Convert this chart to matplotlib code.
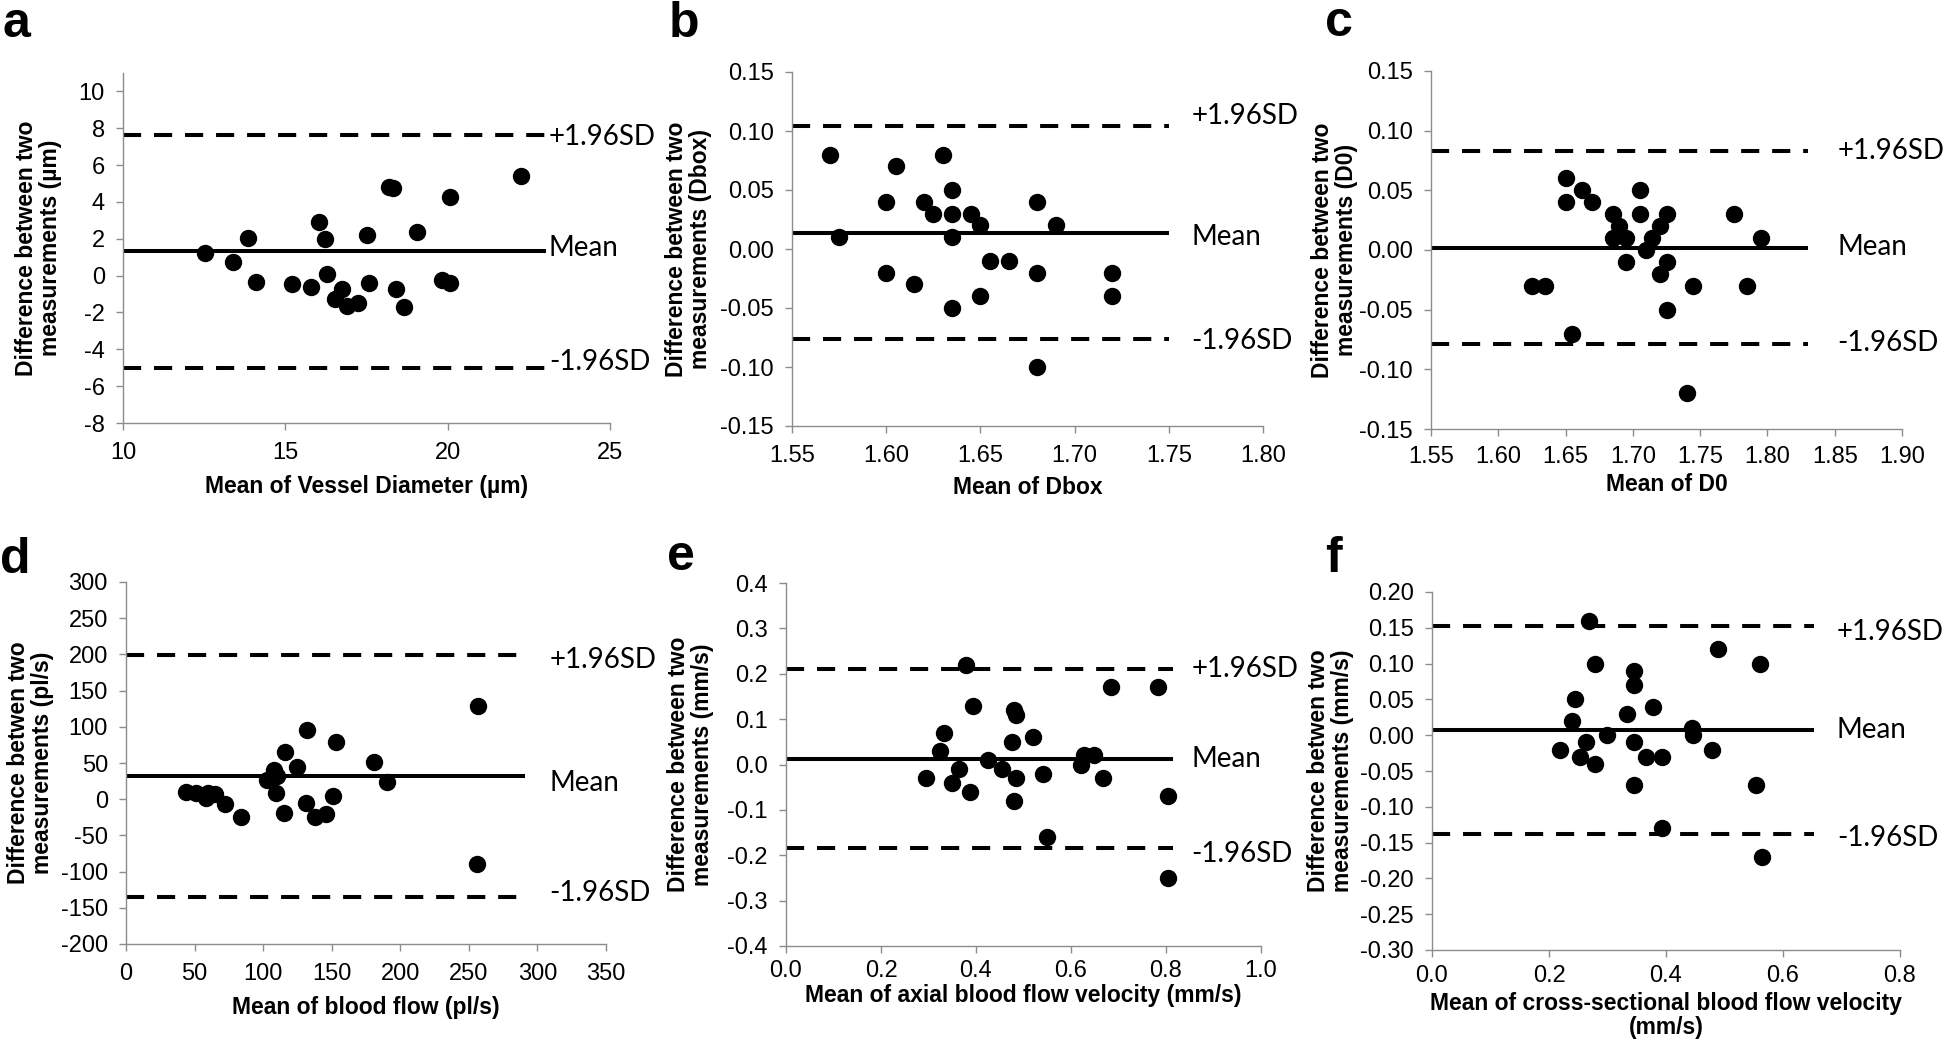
import matplotlib
matplotlib.use("Agg")
import matplotlib.pyplot as plt
import numpy as np

W, H = 1946, 1043

# ---- data ----
a_mean = [12.52, 13.39, 13.84, 14.11, 15.21, 15.80, 16.04, 16.23, 16.28, 16.52, 16.75, 16.89,
          17.23, 17.50, 17.58, 18.19, 18.32, 18.40, 18.66, 19.06, 19.83, 20.07, 20.07, 22.26]
a_diff = [1.24, 0.75, 2.07, -0.32, -0.45, -0.63, 2.89, 1.98, 0.09, -1.28, -0.74, -1.67,
          -1.46, 2.23, -0.41, 4.83, 4.76, -0.74, -1.71, 2.37, -0.23, -0.38, 4.26, 5.42]
a_lines = [1.33, 7.62, -5.03]

b_mean = [1.570, 1.575, 1.600, 1.600, 1.605, 1.615, 1.620, 1.625, 1.630, 1.635, 1.635, 1.635,
          1.635, 1.645, 1.650, 1.650, 1.655, 1.665, 1.680, 1.680, 1.680, 1.690, 1.720, 1.720]
b_diff = [0.08, 0.01, 0.04, -0.02, 0.07, -0.03, 0.04, 0.03, 0.08, 0.05, 0.03, 0.01,
          -0.05, 0.03, 0.02, -0.04, -0.01, -0.01, 0.04, -0.02, -0.10, 0.02, -0.02, -0.04]
b_lines = [0.0135, 0.104, -0.0766]

c_mean = [1.650, 1.650, 1.625, 1.635, 1.655, 1.662, 1.670, 1.685, 1.690, 1.685, 1.695, 1.695,
          1.705, 1.705, 1.710, 1.714, 1.720, 1.725, 1.725, 1.720, 1.725, 1.740, 1.745, 1.775,
          1.785, 1.795]
c_diff = [0.06, 0.04, -0.03, -0.03, -0.07, 0.05, 0.04, 0.03, 0.02, 0.01, 0.01, -0.01,
          0.05, 0.03, 0.00, 0.01, 0.02, 0.03, -0.01, -0.02, -0.05, -0.12, -0.03, 0.03,
          -0.03, 0.01]
c_lines = [0.0017, 0.0828, -0.079]

d_mean = [44, 51, 59.5, 58.6, 65, 72, 84, 103, 108, 110, 109.6, 115, 116, 125, 131, 132,
          138, 146, 151, 153, 181, 190.6, 257, 255.8]
d_diff = [10, 8, 9, 1, 7, -7, -25, 27, 40, 32, 8, -19, 65, 44, -5, 95,
          -24, -20, 4, 79, 51, 24, 129, -89.5]
d_lines = [32, 199, -135.5]

e_mean = [0.294, 0.325, 0.333, 0.349, 0.364, 0.379, 0.388, 0.394, 0.425, 0.454, 0.475, 0.479,
          0.485, 0.485, 0.479, 0.520, 0.540, 0.550, 0.620, 0.628, 0.649, 0.667, 0.685, 0.783,
          0.805, 0.805]
e_diff = [-0.03, 0.03, 0.07, -0.04, -0.01, 0.22, -0.06, 0.13, 0.01, -0.01, 0.05, 0.12,
          0.11, -0.03, -0.08, 0.06, -0.02, -0.16, 0.00, 0.02, 0.02, -0.03, 0.17, 0.17,
          -0.07, -0.25]
e_lines = [0.013, 0.211, -0.184]

f_mean = [0.219, 0.239, 0.244, 0.253, 0.263, 0.268, 0.278, 0.278, 0.299, 0.333, 0.345, 0.345,
          0.345, 0.345, 0.365, 0.378, 0.394, 0.394, 0.444, 0.447, 0.478, 0.489, 0.554, 0.561,
          0.564]
f_diff = [-0.02, 0.02, 0.05, -0.03, -0.01, 0.16, 0.10, -0.04, 0.00, 0.03, 0.09, 0.07,
          -0.01, -0.07, -0.03, 0.04, -0.03, -0.13, 0.01, 0.00, -0.02, 0.12, -0.07, 0.10,
          -0.17]
f_lines = [0.007, 0.152, -0.138]

line_names = ["Mean", "+1.96SD", "-1.96SD"]

panels = [
    dict(letter="a", x=a_mean, y=a_diff, lines=a_lines, line_end=23.03, text_x=23.12,
         xlim=(10, 25), xticks=np.arange(10, 26, 5), xfmt="{:.0f}",
         ylim=(-8, 11), yticks=np.arange(-8, 11, 2), yfmt="{:.0f}",
         xlabel="Mean of Vessel Diameter (\u00b5m)",
         ylabel="Difference between two\nmeasurements (\u00b5m)",
         rect=(123, 73, 610, 423), lab_x=-0.125, xlab_y=-0.150, xpad=9,
         text_off=[3, -2, 6], letter_pos=(2, 37)),
    dict(letter="b", x=b_mean, y=b_diff, lines=b_lines, line_end=1.75, text_x=1.762,
         xlim=(1.55, 1.80), xticks=np.arange(1.55, 1.801, 0.05), xfmt="{:.2f}",
         ylim=(-0.15, 0.15), yticks=np.arange(-0.15, 0.151, 0.05), yfmt="{:.2f}",
         xlabel="Mean of Dbox",
         ylabel="Difference between two\nmeasurements (Dbox)",
         rect=(792, 72, 1263, 426), lab_x=-0.170, xlab_y=-0.140, xpad=9,
         text_off=[-4, 10, -2], letter_pos=(669, 37)),
    dict(letter="c", x=c_mean, y=c_diff, lines=c_lines, line_end=1.83, text_x=1.852,
         xlim=(1.55, 1.90), xticks=np.arange(1.55, 1.901, 0.05), xfmt="{:.2f}",
         ylim=(-0.15, 0.15), yticks=np.arange(-0.15, 0.151, 0.05), yfmt="{:.2f}",
         xlabel="Mean of D0",
         ylabel="Difference between two\nmeasurements (D0)",
         rect=(1431, 71, 1902, 429), lab_x=-0.155, xlab_y=-0.124, xpad=7,
         text_off=[1, 0, 1], letter_pos=(1325, 36)),
    dict(letter="d", x=d_mean, y=d_diff, lines=d_lines, line_end=291, text_x=308.6,
         xlim=(0, 350), xticks=np.arange(0, 351, 50), xfmt="{:.0f}",
         ylim=(-200, 300), yticks=np.arange(-200, 301, 50), yfmt="{:.0f}",
         xlabel="Mean of blood flow (pl/s)",
         ylabel="Difference betwen two\nmeasurements (pl/s)",
         rect=(126, 582, 606, 944), lab_x=-0.150, xlab_y=-0.144, xpad=9,
         text_off=[-7, -5, 4], letter_pos=(0, 573)),
    dict(letter="e", x=e_mean, y=e_diff, lines=e_lines, line_end=0.815, text_x=0.853,
         xlim=(0, 1.0), xticks=np.arange(0, 1.01, 0.2), xfmt="{:.1f}",
         ylim=(-0.4, 0.4), yticks=np.arange(-0.4, 0.41, 0.1), yfmt="{:.1f}",
         xlabel="Mean of axial blood flow velocity (mm/s)",
         ylabel="Difference between two\nmeasurements (mm/s)",
         rect=(786, 583, 1261, 946), lab_x=-0.152, xlab_y=-0.106, xpad=5,
         text_off=[0, 0, -6], letter_pos=(667, 570)),
    dict(letter="f", x=f_mean, y=f_diff, lines=f_lines, line_end=0.653, text_x=0.692,
         xlim=(0, 0.8), xticks=np.arange(0, 0.81, 0.2), xfmt="{:.1f}",
         ylim=(-0.30, 0.20), yticks=np.arange(-0.30, 0.201, 0.05), yfmt="{:.2f}",
         xlabel="Mean of cross-sectional blood flow velocity\n(mm/s)",
         ylabel="Difference betwen two\nmeasurements (mm/s)",
         rect=(1432, 592, 1900, 950), lab_x=-0.167, xlab_y=-0.118, xpad=6,
         text_off=[0, -6, -4], letter_pos=(1325, 572)),
]

plt.rcParams["axes.unicode_minus"] = False
plt.rcParams["font.family"] = ["Liberation Sans", "DejaVu Sans"]

fig = plt.figure(figsize=(W / 100, H / 100), dpi=100)
grey = "#8c8c8c"


def fmt(f, v):
    return f.format(round(float(v), 6) + 0.0)


for p in panels:
    l, t, r, b = p["rect"]
    ax = fig.add_axes([l / W, 1 - b / H, (r - l) / W, (b - t) / H])
    for side in ["top", "right"]:
        ax.spines[side].set_visible(False)
    for side in ["left", "bottom"]:
        ax.spines[side].set_color(grey)
        ax.spines[side].set_linewidth(1.0)
    ax.tick_params(colors=grey, labelcolor="black", length=5, width=1.0, labelsize=17)
    ax.tick_params(axis="x", pad=p["xpad"])
    ax.tick_params(axis="y", pad=8)

    ax.set_xlim(*p["xlim"])
    ax.set_ylim(*p["ylim"])
    ax.set_xticks(p["xticks"])
    ax.set_xticklabels([fmt(p["xfmt"], v) for v in p["xticks"]])
    ax.set_yticks(p["yticks"])
    ax.set_yticklabels([fmt(p["yfmt"], v) for v in p["yticks"]])

    x0 = p["xlim"][0]
    mean, hi, lo = p["lines"]
    ax.plot([x0, p["line_end"]], [mean, mean], color="black", lw=2.9, solid_capstyle="butt",
            clip_on=False, zorder=2)
    for v in (hi, lo):
        ax.plot([x0, p["line_end"]], [v, v], color="black", lw=2.9, dashes=(4.5, 3.2),
                clip_on=False, zorder=2)

    ax.plot(p["x"], p["y"], "o", color="black", markersize=11.5, clip_on=False, zorder=3)

    for name, v, off in zip(line_names, p["lines"], p["text_off"]):
        ax.annotate(name, (p["text_x"], v), xytext=(0, off * 0.72), textcoords="offset points",
                    ha="left", va="center", fontsize=20, family=["Lato", "DejaVu Sans"],
                    annotation_clip=False)

    ax.set_xlabel(p["xlabel"], fontsize=16.5, fontweight="bold", va="top", linespacing=1.05)
    ax.xaxis.set_label_coords(0.5, p["xlab_y"])
    ax.set_ylabel(p["ylabel"], fontsize=16.5, fontweight="bold", linespacing=1.05)
    ax.yaxis.set_label_coords(p["lab_x"], 0.5)

    lx, ly = p["letter_pos"]
    fig.text(lx / W, 1 - ly / H, p["letter"], fontsize=36, fontweight="bold",
             ha="left", va="baseline")

fig.savefig("out.png", dpi=100)
